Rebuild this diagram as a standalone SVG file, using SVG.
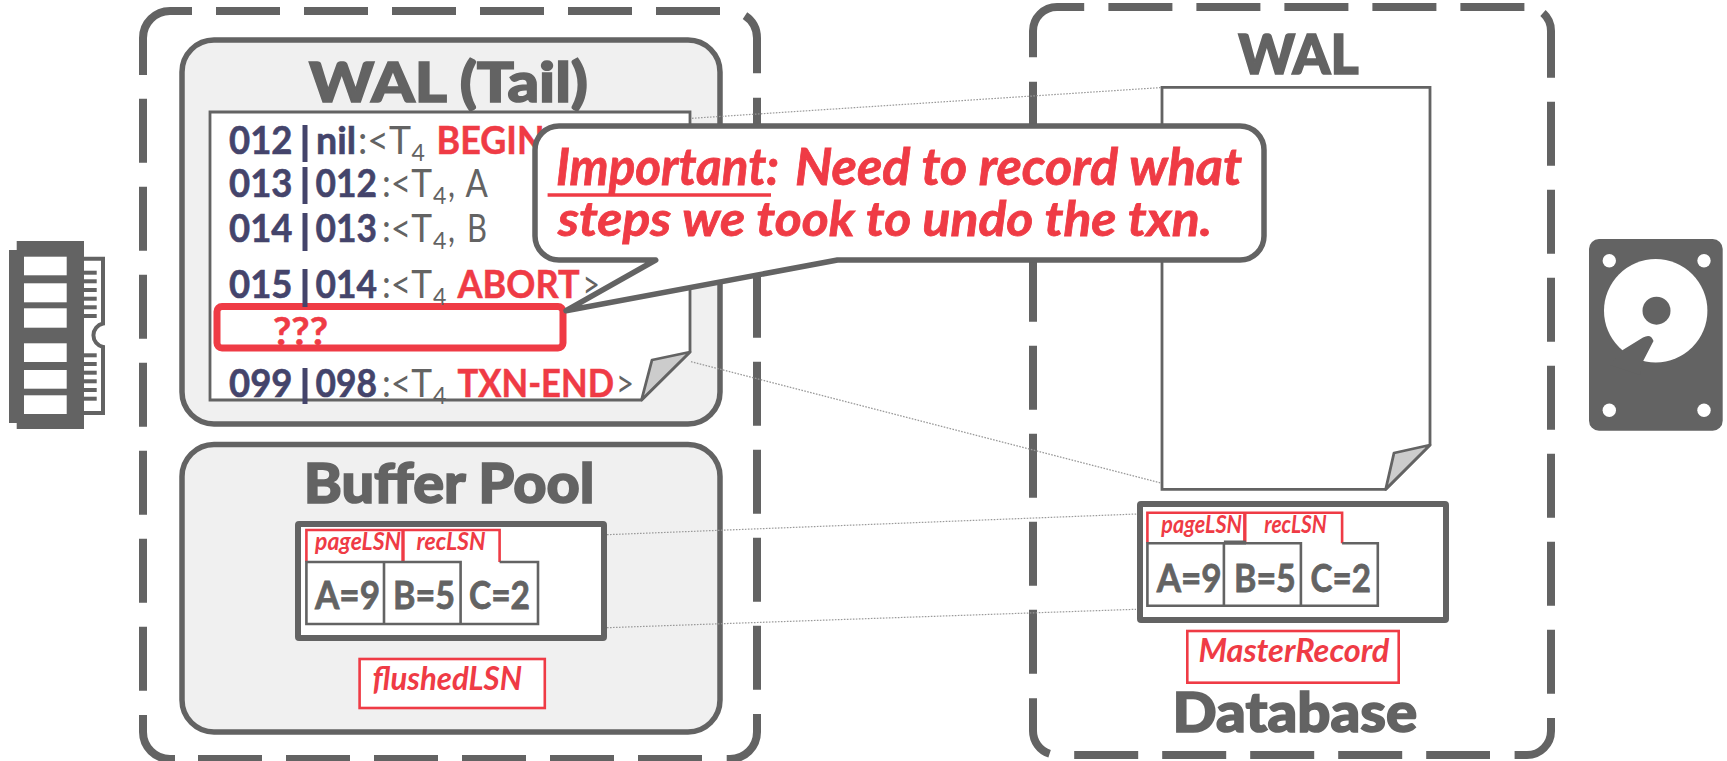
<svg xmlns="http://www.w3.org/2000/svg" width="1727" height="761" viewBox="0 0 1727 761">
<style>
text{font-family:"Lato","Carlito","Liberation Sans",sans-serif}
.dash{fill:none;stroke:#636363;stroke-width:8}
.d{stroke-dasharray:64 24}
.panel{fill:#f0f0f0;stroke:#636363;stroke-width:5.5}
.page{fill:#fff;stroke:#636363;stroke-width:2.8}
.fold{fill:#ccc;stroke:#636363;stroke-width:2.8;stroke-linejoin:round}
.frame{fill:#fff;stroke:#636363;stroke-width:6}
.cell{fill:none;stroke:#636363;stroke-width:2.6}
.tab{fill:none;stroke:#ef3b45;stroke-width:2.6}
.tabv{fill:none;stroke:#ef3b45;stroke-width:3.4}
.rbox{fill:#fff;stroke:#ef3b45;stroke-width:2.6}
.title{font-weight:900;font-size:56px;fill:#636363;stroke:#636363;stroke-width:1.6}
.val{font-weight:700;font-size:39px;fill:#636363;stroke:#636363;stroke-width:.8}
.lsn{font-weight:700;font-style:italic;font-size:24px;fill:#ef3b45}
.lab{font-weight:700;font-style:italic;font-size:32px;fill:#ef3b45}
.n{font-weight:700;font-size:38px;fill:#44446b;stroke:#44446b;stroke-width:.6}
.g{font-weight:400;font-size:38px;fill:#636363}
.s{font-weight:400;font-size:24px;fill:#636363}
.r{font-weight:700;font-size:38px;fill:#ef3b45;stroke:#ef3b45;stroke-width:.5}
.bar{stroke:#44446b;stroke-width:5}
.say{font-weight:700;font-style:italic;font-size:51px;fill:#ef3b45;stroke:#ef3b45;stroke-width:.8}
.dot{stroke:#9a9a9a;stroke-width:1.2;stroke-dasharray:1.6 1.4;fill:none}
.ic{fill:#636363}
.w{fill:#fff}
</style>

<g id="memory-icon">
<path class="ic" d="M16.7 241H84V429H16.7V423H9V250H16.7Z"/>
<g class="w">
<rect x="24" y="256.7" width="42.7" height="18.6"/>
<rect x="24" y="283.3" width="42.7" height="19"/>
<rect x="24" y="308.3" width="42.7" height="19.4"/>
<rect x="24" y="343.3" width="42.7" height="18.7"/>
<rect x="24" y="370" width="42.7" height="18.7"/>
<rect x="24" y="395.3" width="42.7" height="18.7"/>
</g>
<path d="M84 258.7H103V323.5A12 12 0 0 0 103 347V413H84" fill="none" stroke="#636363" stroke-width="4"/>
<g class="ic">
<rect x="84" y="270.7" width="12.7" height="4"/><rect x="84" y="279.3" width="12.7" height="4"/><rect x="84" y="288" width="12.7" height="4"/><rect x="84" y="296.7" width="12.7" height="4"/><rect x="84" y="305.3" width="12.7" height="4"/><rect x="84" y="314" width="12.7" height="4"/>
<rect x="84" y="353.3" width="12.7" height="4"/><rect x="84" y="362" width="12.7" height="4"/><rect x="84" y="370.7" width="12.7" height="4"/><rect x="84" y="379.3" width="12.7" height="4"/><rect x="84" y="388" width="12.7" height="4"/><rect x="84" y="396.7" width="12.7" height="4"/>
</g>
</g>

<g id="disk-icon">
<rect class="ic" x="1589" y="239" width="133.7" height="191.7" rx="10"/>
<g class="w">
<circle cx="1609.3" cy="260.7" r="6.7"/><circle cx="1704" cy="260.7" r="6.7"/>
<circle cx="1609.3" cy="410.3" r="6.7"/><circle cx="1704" cy="410.3" r="6.7"/>
<circle cx="1655.7" cy="310.7" r="51.7"/>
</g>
<circle class="ic" cx="1656.5" cy="310.7" r="14"/>
<path class="ic" d="M1622.7 350L1643 337.5Q1651 333 1653.5 341L1643.3 360.7L1640 375L1610 365Z"/>
</g>

<g id="memory-box">
<path class="dash" d="M143 75V38A27 27 0 0 1 170 11H192"/>
<path class="dash d" d="M216 11H720"/>
<path class="dash" d="M745 15.6A27 27 0 0 1 757 38V73.3"/>
<path class="dash d" d="M757 97.7V689.7"/>
<path class="dash" d="M757 714V732A27 27 0 0 1 730 759H726.7"/>
<path class="dash d" d="M198 759H702"/>
<path class="dash" d="M175 759H170A27 27 0 0 1 143 732V715"/>
<path class="dash d" d="M143 98.7V690.7"/>
</g>

<g id="database-box">
<path class="dash" d="M1033 57.3V31A24 24 0 0 1 1057 7H1084.2"/>
<path class="dash d" d="M1108.4 7H1524.6"/>
<path class="dash" d="M1543 13.1A24 24 0 0 1 1551 31V77.7"/>
<path class="dash d" d="M1551 101.7V693.7"/>
<path class="dash" d="M1551 718V731A24 24 0 0 1 1527 755H1514.6"/>
<path class="dash d" d="M1074.2 755H1490"/>
<path class="dash" d="M1033 698.3V731A24 24 0 0 0 1049.6 753.8"/>
<path class="dash d" d="M1033 81.7V673.7"/>
<text class="title" x="1238.2" y="74" textLength="120.4" lengthAdjust="spacingAndGlyphs">WAL</text>
<text class="title" x="1172.5" y="731.7" textLength="244.7" lengthAdjust="spacingAndGlyphs">Database</text>
</g>

<g id="wal-tail">
<rect class="panel" x="182" y="40" width="538" height="384" rx="32"/>
<text class="title" x="309" y="102" textLength="279" lengthAdjust="spacingAndGlyphs">WAL (Tail)</text>
<path class="page" d="M210 112H690V352L641.5 400H210Z"/>
<path class="fold" d="M690 352L652 360L641.5 400Z"/>
<rect x="217" y="306.5" width="346" height="41.5" rx="5" fill="#fff" stroke="#ef3b45" stroke-width="7"/>
<text class="r" x="273" y="345" textLength="55" lengthAdjust="spacingAndGlyphs">???</text>

<g id="log-012">
<text class="n" x="229" y="154" textLength="63.4" lengthAdjust="spacingAndGlyphs">012</text>
<line class="bar" x1="305" y1="125" x2="305" y2="162"/>
<text class="n" x="316" y="154" textLength="40" lengthAdjust="spacingAndGlyphs">nil</text>
<text class="g" x="358" y="154" textLength="53" lengthAdjust="spacingAndGlyphs">:&lt;T</text>
<text class="s" x="411.6" y="160.7" textLength="13.4" lengthAdjust="spacingAndGlyphs">4</text>
<text class="r" x="436.6" y="154" textLength="108" lengthAdjust="spacingAndGlyphs">BEGIN</text>
</g>
<g id="log-013">
<text class="n" x="229" y="197" textLength="63.4" lengthAdjust="spacingAndGlyphs">013</text>
<line class="bar" x1="305" y1="167" x2="305" y2="204"/>
<text class="n" x="315.6" y="197" textLength="61.4" lengthAdjust="spacingAndGlyphs">012</text>
<text class="g" x="382" y="197" textLength="50" lengthAdjust="spacingAndGlyphs">:&lt;T</text>
<text class="s" x="433" y="204" textLength="13.4" lengthAdjust="spacingAndGlyphs">4</text>
<text class="g" x="448" y="197" textLength="7" lengthAdjust="spacingAndGlyphs">,</text>
<text class="g" x="465.6" y="197" textLength="22.4" lengthAdjust="spacingAndGlyphs">A</text>
</g>
<g id="log-014">
<text class="n" x="229" y="242" textLength="63.4" lengthAdjust="spacingAndGlyphs">014</text>
<line class="bar" x1="305" y1="213" x2="305" y2="251"/>
<text class="n" x="315.6" y="242" textLength="61.4" lengthAdjust="spacingAndGlyphs">013</text>
<text class="g" x="382" y="242" textLength="50" lengthAdjust="spacingAndGlyphs">:&lt;T</text>
<text class="s" x="433" y="249" textLength="13.4" lengthAdjust="spacingAndGlyphs">4</text>
<text class="g" x="448" y="242" textLength="7" lengthAdjust="spacingAndGlyphs">,</text>
<text class="g" x="467" y="242" textLength="20" lengthAdjust="spacingAndGlyphs">B</text>
</g>
<g id="log-015">
<text class="n" x="229" y="298" textLength="63.4" lengthAdjust="spacingAndGlyphs">015</text>
<line class="bar" x1="305" y1="269" x2="305" y2="307"/>
<text class="n" x="315.6" y="298" textLength="61.4" lengthAdjust="spacingAndGlyphs">014</text>
<text class="g" x="382" y="298" textLength="50" lengthAdjust="spacingAndGlyphs">:&lt;T</text>
<text class="s" x="433" y="305" textLength="13.4" lengthAdjust="spacingAndGlyphs">4</text>
<text class="r" x="457.6" y="298" textLength="122" lengthAdjust="spacingAndGlyphs">ABORT</text>
<text class="g" x="582.6" y="298" textLength="17.4" lengthAdjust="spacingAndGlyphs">&gt;</text>
</g>
<g id="log-099">
<text class="n" x="229" y="397" textLength="63.4" lengthAdjust="spacingAndGlyphs">099</text>
<line class="bar" x1="305" y1="368" x2="305" y2="404"/>
<text class="n" x="315.6" y="397" textLength="61.4" lengthAdjust="spacingAndGlyphs">098</text>
<text class="g" x="382" y="397" textLength="50" lengthAdjust="spacingAndGlyphs">:&lt;T</text>
<text class="s" x="433" y="404" textLength="13.4" lengthAdjust="spacingAndGlyphs">4</text>
<text class="r" x="457.6" y="397" textLength="156.4" lengthAdjust="spacingAndGlyphs">TXN-END</text>
<text class="g" x="616" y="397" textLength="18" lengthAdjust="spacingAndGlyphs">&gt;</text>
</g>
</g>

<g id="buffer-pool">
<rect class="panel" x="182" y="444.5" width="538" height="287.5" rx="32"/>
<text class="title" x="303.7" y="503" textLength="290.8" lengthAdjust="spacingAndGlyphs">Buffer Pool</text>
<rect class="frame" x="298" y="524" width="306" height="114" rx="1"/>
<path class="tab" d="M306.4 562V530H499.6V562"/>
<line class="tabv" x1="403" y1="530" x2="403" y2="562"/>
<path class="cell" d="M306.4 562H384V624H306.4ZM384 562H460.6V624H384ZM460.6 624H538V562H499.6"/>
<text class="lsn" x="315" y="550" textLength="86" lengthAdjust="spacingAndGlyphs">pageLSN</text>
<text class="lsn" x="416.6" y="550" textLength="69" lengthAdjust="spacingAndGlyphs">recLSN</text>
<text class="val" x="315" y="609" textLength="65" lengthAdjust="spacingAndGlyphs">A=9</text>
<text class="val" x="393" y="609" textLength="62" lengthAdjust="spacingAndGlyphs">B=5</text>
<text class="val" x="469" y="609" textLength="61" lengthAdjust="spacingAndGlyphs">C=2</text>
<rect class="rbox" x="359.6" y="659" width="185.2" height="49"/>
<text class="lab" x="372.6" y="690" textLength="149.4" lengthAdjust="spacingAndGlyphs">flushedLSN</text>
</g>

<g id="wal-file">
<path class="page" d="M1162 87.3H1430V445L1385.7 489.3H1162Z"/>
<path class="fold" d="M1430 445L1394 453L1385.7 489.3Z"/>
</g>

<g id="database-pages">
<rect class="frame" x="1140" y="504" width="306" height="116" rx="1"/>
<path class="tab" d="M1147.4 543.3V512.7H1342.1V543.3"/>
<line class="tabv" x1="1244.8" y1="512.7" x2="1244.8" y2="543.3"/>
<path class="cell" d="M1147.4 543.3H1223.9V605.7H1147.4ZM1223.9 543.3H1300.9V605.7H1223.9ZM1300.9 605.7H1377.8V543.3H1342.1"/>
<line x1="1223.9" y1="542.5" x2="1246" y2="542.5" stroke="#636363" stroke-width="4"/>
<text class="lsn" x="1161.3" y="533.3" textLength="80.7" lengthAdjust="spacingAndGlyphs">pageLSN</text>
<text class="lsn" x="1264.3" y="533.3" textLength="62.5" lengthAdjust="spacingAndGlyphs">recLSN</text>
<text class="val" x="1156.7" y="591.7" textLength="64.9" lengthAdjust="spacingAndGlyphs">A=9</text>
<text class="val" x="1234" y="591.7" textLength="61.8" lengthAdjust="spacingAndGlyphs">B=5</text>
<text class="val" x="1310.6" y="591.7" textLength="60.3" lengthAdjust="spacingAndGlyphs">C=2</text>
<rect class="rbox" x="1187.3" y="631" width="211.4" height="51.7"/>
<text class="lab" x="1198.4" y="661.7" textLength="191" lengthAdjust="spacingAndGlyphs">MasterRecord</text>
</g>

<g id="connectors">
<line class="dot" x1="692" y1="118.3" x2="1162" y2="87.5"/>
<line class="dot" x1="691" y1="361.7" x2="1161" y2="483"/>
<line class="dot" x1="607" y1="534.7" x2="1137" y2="514"/>
<line class="dot" x1="607" y1="627.7" x2="1136" y2="609.3"/>
</g>

<g id="callout">
<path d="M559 126H1240A24 24 0 0 1 1264 150V236A24 24 0 0 1 1240 260H837.5L566 310.7L655.7 260H559A24 24 0 0 1 535 236V150A24 24 0 0 1 559 126Z" fill="#fff" stroke="#636363" stroke-width="5.5" stroke-linejoin="round"/>
<text class="say" x="556" y="185" textLength="223" lengthAdjust="spacingAndGlyphs">Important:</text>
<line x1="547.6" y1="195" x2="771" y2="195" stroke="#ef3b45" stroke-width="3.6"/>
<text class="say" x="795" y="185" textLength="447" lengthAdjust="spacingAndGlyphs">Need to record what</text>
<text class="say" x="558" y="236" textLength="654" lengthAdjust="spacingAndGlyphs" font-size="48" style="font-size:48px">steps we took to undo the txn.</text>
</g>
</svg>
